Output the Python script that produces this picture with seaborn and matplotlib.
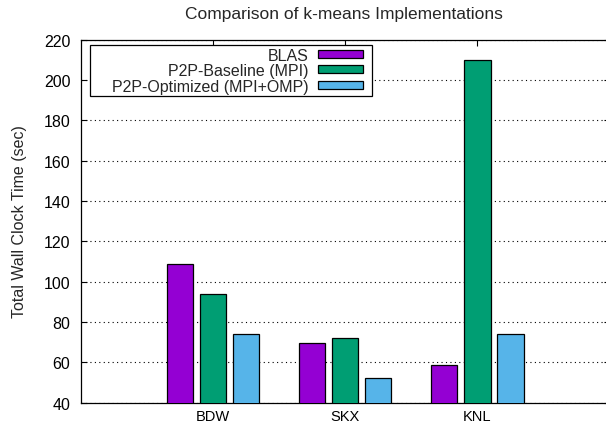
import matplotlib
matplotlib.use("Agg")
import matplotlib.pyplot as plt
import matplotlib.patches as mpatches
import pandas as pd
import seaborn as sns

# Wall clock times (seconds) per platform and implementation
platforms = ["BDW", "SKX", "KNL"]
implementations = ["BLAS", "P2P-Baseline (MPI)", "P2P-Optimized (MPI+OMP)"]
blas = [108.7, 69.5, 58.8]
p2p_baseline = [94.0, 72.0, 210.0]
p2p_optimized = [74.1, 52.0, 74.1]
y_ticks = [40, 60, 80, 100, 120, 140, 160, 180, 200, 220]

colors = ["#9400D3", "#009E73", "#56B4E9"]

rows = []
for impl, vals in zip(implementations, [blas, p2p_baseline, p2p_optimized]):
    for p, v in zip(platforms, vals):
        rows.append({"Platform": p, "Implementation": impl, "Time": v})
df = pd.DataFrame(rows)

sns.set_style("white")
plt.rcParams["font.family"] = ["Liberation Sans", "DejaVu Sans"]
FS = 11.5

fig = plt.figure(figsize=(6.06, 4.27), dpi=100)
ax = fig.add_axes([0.1332, 0.055, 1.0058 - 0.1332, 0.905 - 0.055])

sns.barplot(
    data=df, x="Platform", y="Time", hue="Implementation",
    order=platforms, hue_order=implementations, palette=colors,
    saturation=1, width=0.75, gap=0.2, edgecolor="black", linewidth=0.9,
    legend=False, ax=ax, zorder=3,
)

ax.set_xlim(-1, 3)
ax.set_ylim(40, 220)
ax.set_yticks(y_ticks)
ax.set_yticklabels([str(t) for t in y_ticks])
ax.set_xlabel("")
ax.set_ylabel("Total Wall Clock Time (sec)", fontsize=FS)
ax.yaxis.set_label_coords(-0.1016, 0.5)

ax.yaxis.grid(True, linestyle=(0, (1, 3)), color="black", linewidth=0.8, zorder=0)
ax.xaxis.grid(False)
ax.set_axisbelow(True)

for s in ax.spines.values():
    s.set_color("black")
    s.set_linewidth(0.9)

ax.tick_params(axis="both", which="major", direction="in", length=4,
               width=0.8, color="black", labelsize=FS, labelcolor="black",
               top=True, right=True, bottom=True, left=True)
ax.tick_params(axis="y", pad=7.5)
ax.tick_params(axis="x", pad=4.5, labelsize=10.5)

# Key box drawn as a fixed-size frame, entries right-aligned inside it
frame = mpatches.Rectangle((0.0176, 0.8444), 0.5509 - 0.0176, 0.9848 - 0.8444,
                           transform=ax.transAxes, facecolor="white",
                           edgecolor="black", linewidth=0.9, zorder=4)
ax.add_patch(frame)

handles = [mpatches.Patch(facecolor=c, edgecolor="black", linewidth=0.9)
           for c in colors]
leg = ax.legend(handles, implementations, loc="upper right",
                bbox_to_anchor=(0.5338, 0.978), markerfirst=False,
                frameon=False, fontsize=FS, handlelength=2.8,
                handleheight=0.4, labelspacing=0.03, borderpad=0.0,
                handletextpad=0.6, borderaxespad=0.0)
for t in leg.get_texts():
    t.set_ha("right")
leg.set_zorder(5)

fig.text(344 / 606, 1 - 15 / 427, "Comparison of k-means Implementations",
         ha="center", va="center", fontsize=12.5)

fig.savefig("out.png", dpi=100)
